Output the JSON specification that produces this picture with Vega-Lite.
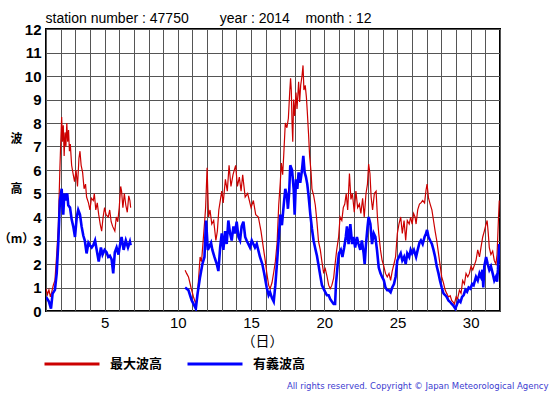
{
  "$schema": "https://vega.github.io/schema/vega-lite/v6.json",
  "width": 454,
  "height": 282,
  "autosize": {"type": "none"},
  "padding": {"left": 46, "top": 29, "right": 55, "bottom": 84},
  "background": "#ffffff",
  "config": {
    "view": {"stroke": "#000000", "strokeWidth": 2},
    "axis": {"gridColor": "#555555", "gridOpacity": 1, "gridWidth": 1}
  },
  "datasets": {
    "mx": [
      {"d":1.0,"v":0.95,"s":1},{"d":1.1,"v":0.7,"s":1},{"d":1.2,"v":0.9,"s":1},{"d":1.3,"v":0.6,"s":1},{"d":1.39,"v":0.8,"s":1},{"d":1.5,"v":1.1,"s":1},{"d":1.61,"v":1.3,"s":1},{"d":1.73,"v":2.4,"s":1},{"d":1.84,"v":3.6,"s":1},{"d":1.95,"v":6.1,"s":1},{"d":2.02,"v":7.4,"s":1},{"d":2.07,"v":8.25,"s":1},{"d":2.12,"v":7.2,"s":1},{"d":2.18,"v":7.9,"s":1},{"d":2.24,"v":6.6,"s":1},{"d":2.3,"v":7.6,"s":1},{"d":2.36,"v":7.0,"s":1},{"d":2.42,"v":8.0,"s":1},{"d":2.48,"v":7.2,"s":1},{"d":2.54,"v":7.7,"s":1},{"d":2.6,"v":6.8,"s":1},{"d":2.66,"v":7.1,"s":1},{"d":2.75,"v":6.2,"s":1},{"d":2.86,"v":5.8,"s":1},{"d":2.95,"v":5.5,"s":1},{"d":3.05,"v":6.0,"s":1},{"d":3.15,"v":5.3,"s":1},{"d":3.25,"v":6.5,"s":1},{"d":3.32,"v":6.8,"s":1},{"d":3.4,"v":6.2,"s":1},{"d":3.5,"v":5.9,"s":1},{"d":3.6,"v":5.2,"s":1},{"d":3.7,"v":5.4,"s":1},{"d":3.77,"v":4.85,"s":1},{"d":3.9,"v":4.6,"s":1},{"d":4.0,"v":4.3,"s":1},{"d":4.1,"v":4.8,"s":1},{"d":4.23,"v":4.7,"s":1},{"d":4.3,"v":5.0,"s":1},{"d":4.4,"v":4.3,"s":1},{"d":4.5,"v":4.6,"s":1},{"d":4.6,"v":4.1,"s":1},{"d":4.7,"v":3.7,"s":1},{"d":4.8,"v":3.4,"s":1},{"d":4.9,"v":4.0,"s":1},{"d":5.0,"v":4.4,"s":1},{"d":5.1,"v":4.1,"s":1},{"d":5.25,"v":4.0,"s":1},{"d":5.35,"v":4.3,"s":1},{"d":5.45,"v":3.8,"s":1},{"d":5.55,"v":3.6,"s":1},{"d":5.7,"v":3.4,"s":1},{"d":5.8,"v":4.0,"s":1},{"d":5.9,"v":3.8,"s":1},{"d":6.0,"v":4.4,"s":1},{"d":6.1,"v":5.3,"s":1},{"d":6.16,"v":5.1,"s":1},{"d":6.25,"v":4.4,"s":1},{"d":6.35,"v":5.0,"s":1},{"d":6.45,"v":4.5,"s":1},{"d":6.55,"v":4.2,"s":1},{"d":6.65,"v":4.9,"s":1},{"d":6.73,"v":4.7,"s":1},{"d":6.78,"v":4.4,"s":1},
      {"d":10.5,"v":1.73,"s":2},{"d":10.6,"v":1.6,"s":2},{"d":10.73,"v":1.45,"s":2},{"d":10.9,"v":1.0,"s":2},{"d":11.07,"v":0.6,"s":2},{"d":11.23,"v":0.3,"s":2},{"d":11.35,"v":0.74,"s":2},{"d":11.52,"v":2.3,"s":2},{"d":11.62,"v":2.1,"s":2},{"d":11.82,"v":3.7,"s":2},{"d":11.9,"v":4.4,"s":2},{"d":12.0,"v":6.1,"s":2},{"d":12.1,"v":4.0,"s":2},{"d":12.2,"v":4.3,"s":2},{"d":12.32,"v":3.7,"s":2},{"d":12.45,"v":3.85,"s":2},{"d":12.6,"v":3.0,"s":2},{"d":12.7,"v":3.4,"s":2},{"d":12.8,"v":4.3,"s":2},{"d":12.9,"v":4.7,"s":2},{"d":13.0,"v":5.1,"s":2},{"d":13.1,"v":4.6,"s":2},{"d":13.25,"v":5.6,"s":2},{"d":13.38,"v":5.1,"s":2},{"d":13.5,"v":6.2,"s":2},{"d":13.63,"v":5.3,"s":2},{"d":13.77,"v":5.8,"s":2},{"d":13.95,"v":6.2,"s":2},{"d":14.07,"v":5.3,"s":2},{"d":14.2,"v":5.7,"s":2},{"d":14.32,"v":5.1,"s":2},{"d":14.43,"v":5.8,"s":2},{"d":14.6,"v":4.85,"s":2},{"d":14.77,"v":5.0,"s":2},{"d":15.0,"v":4.4,"s":2},{"d":15.16,"v":4.7,"s":2},{"d":15.32,"v":4.1,"s":2},{"d":15.5,"v":4.0,"s":2},{"d":15.68,"v":3.4,"s":2},{"d":15.84,"v":2.7,"s":2},{"d":15.98,"v":2.1,"s":2},{"d":16.07,"v":1.65,"s":2},{"d":16.2,"v":1.1,"s":2},{"d":16.3,"v":0.95,"s":2},{"d":16.43,"v":1.2,"s":2},{"d":16.55,"v":1.65,"s":2},{"d":16.66,"v":2.1,"s":2},{"d":16.78,"v":2.9,"s":2},{"d":16.89,"v":4.5,"s":2},{"d":17.0,"v":5.5,"s":2},{"d":17.07,"v":6.3,"s":2},{"d":17.16,"v":5.8,"s":2},{"d":17.23,"v":6.6,"s":2},{"d":17.34,"v":8.0,"s":2},{"d":17.45,"v":7.8,"s":2},{"d":17.55,"v":8.2,"s":2},{"d":17.64,"v":9.3,"s":2},{"d":17.7,"v":9.9,"s":2},{"d":17.75,"v":9.4,"s":2},{"d":17.8,"v":8.0,"s":2},{"d":17.85,"v":7.2,"s":2},{"d":17.91,"v":9.0,"s":2},{"d":17.98,"v":8.3,"s":2},{"d":18.07,"v":9.3,"s":2},{"d":18.14,"v":8.6,"s":2},{"d":18.25,"v":9.75,"s":2},{"d":18.32,"v":8.9,"s":2},{"d":18.39,"v":9.6,"s":2},{"d":18.48,"v":10.0,"s":2},{"d":18.55,"v":10.45,"s":2},{"d":18.61,"v":9.4,"s":2},{"d":18.7,"v":9.6,"s":2},{"d":18.78,"v":9.1,"s":2},{"d":18.84,"v":8.5,"s":2},{"d":18.93,"v":7.5,"s":2},{"d":19.0,"v":6.6,"s":2},{"d":19.1,"v":5.9,"s":2},{"d":19.16,"v":5.2,"s":2},{"d":19.28,"v":4.9,"s":2},{"d":19.39,"v":4.5,"s":2},{"d":19.5,"v":3.8,"s":2},{"d":19.61,"v":2.95,"s":2},{"d":19.73,"v":2.6,"s":2},{"d":19.84,"v":2.1,"s":2},{"d":19.95,"v":1.65,"s":2},{"d":20.07,"v":1.8,"s":2},{"d":20.18,"v":1.5,"s":2},{"d":20.3,"v":1.1,"s":2},{"d":20.41,"v":0.95,"s":2},{"d":20.52,"v":1.1,"s":2},{"d":20.64,"v":1.4,"s":2},{"d":20.74,"v":2.0,"s":2},{"d":20.85,"v":2.6,"s":2},{"d":20.98,"v":3.15,"s":2},{"d":21.08,"v":4.0,"s":2},{"d":21.2,"v":3.85,"s":2},{"d":21.3,"v":4.4,"s":2},{"d":21.4,"v":4.55,"s":2},{"d":21.5,"v":5.0,"s":2},{"d":21.6,"v":4.3,"s":2},{"d":21.72,"v":5.85,"s":2},{"d":21.82,"v":4.75,"s":2},{"d":21.92,"v":5.0,"s":2},{"d":22.05,"v":4.2,"s":2},{"d":22.16,"v":5.1,"s":2},{"d":22.28,"v":4.4,"s":2},{"d":22.4,"v":4.55,"s":2},{"d":22.5,"v":4.15,"s":2},{"d":22.62,"v":4.8,"s":2},{"d":22.73,"v":4.0,"s":2},{"d":22.85,"v":5.0,"s":2},{"d":22.95,"v":5.4,"s":2},{"d":23.03,"v":6.25,"s":2},{"d":23.12,"v":5.85,"s":2},{"d":23.2,"v":4.85,"s":2},{"d":23.3,"v":4.3,"s":2},{"d":23.42,"v":5.0,"s":2},{"d":23.54,"v":5.1,"s":2},{"d":23.63,"v":4.0,"s":2},{"d":23.72,"v":3.3,"s":2},{"d":23.84,"v":2.6,"s":2},{"d":23.95,"v":2.15,"s":2},{"d":24.07,"v":1.9,"s":2},{"d":24.18,"v":1.6,"s":2},{"d":24.3,"v":1.45,"s":2},{"d":24.42,"v":1.6,"s":2},{"d":24.53,"v":1.3,"s":2},{"d":24.64,"v":1.7,"s":2},{"d":24.76,"v":2.0,"s":2},{"d":24.87,"v":2.3,"s":2},{"d":24.99,"v":3.3,"s":2},{"d":25.1,"v":3.7,"s":2},{"d":25.22,"v":4.0,"s":2},{"d":25.33,"v":3.3,"s":2},{"d":25.45,"v":3.85,"s":2},{"d":25.56,"v":3.0,"s":2},{"d":25.67,"v":3.85,"s":2},{"d":25.8,"v":3.7,"s":2},{"d":25.9,"v":4.0,"s":2},{"d":26.0,"v":3.7,"s":2},{"d":26.1,"v":4.15,"s":2},{"d":26.2,"v":4.0,"s":2},{"d":26.27,"v":3.7,"s":2},{"d":26.38,"v":4.3,"s":2},{"d":26.5,"v":4.55,"s":2},{"d":26.6,"v":4.6,"s":2},{"d":26.72,"v":4.7,"s":2},{"d":26.85,"v":4.6,"s":2},{"d":26.95,"v":5.15,"s":2},{"d":27.02,"v":5.4,"s":2},{"d":27.12,"v":4.8,"s":2},{"d":27.23,"v":4.55,"s":2},{"d":27.35,"v":4.3,"s":2},{"d":27.46,"v":3.85,"s":2},{"d":27.57,"v":3.4,"s":2},{"d":27.68,"v":3.0,"s":2},{"d":27.8,"v":2.45,"s":2},{"d":27.9,"v":2.0,"s":2},{"d":28.02,"v":1.45,"s":2},{"d":28.14,"v":1.2,"s":2},{"d":28.25,"v":0.9,"s":2},{"d":28.36,"v":0.75,"s":2},{"d":28.48,"v":0.6,"s":2},{"d":28.6,"v":0.65,"s":2},{"d":28.7,"v":0.45,"s":2},{"d":28.8,"v":0.38,"s":2},{"d":28.89,"v":0.3,"s":2},{"d":29.0,"v":0.6,"s":2},{"d":29.1,"v":0.52,"s":2},{"d":29.23,"v":0.88,"s":2},{"d":29.34,"v":0.75,"s":2},{"d":29.45,"v":1.3,"s":2},{"d":29.57,"v":1.15,"s":2},{"d":29.68,"v":1.6,"s":2},{"d":29.8,"v":1.45,"s":2},{"d":29.91,"v":1.6,"s":2},{"d":30.02,"v":1.9,"s":2},{"d":30.14,"v":1.75,"s":2},{"d":30.25,"v":1.95,"s":2},{"d":30.36,"v":2.15,"s":2},{"d":30.48,"v":2.6,"s":2},{"d":30.6,"v":2.3,"s":2},{"d":30.7,"v":2.7,"s":2},{"d":30.82,"v":3.15,"s":2},{"d":30.93,"v":3.4,"s":2},{"d":31.05,"v":3.7,"s":2},{"d":31.12,"v":3.85,"s":2},{"d":31.2,"v":3.3,"s":2},{"d":31.27,"v":2.7,"s":2},{"d":31.38,"v":2.4,"s":2},{"d":31.5,"v":2.55,"s":2},{"d":31.61,"v":2.15,"s":2},{"d":31.72,"v":2.0,"s":2},{"d":31.8,"v":2.4,"s":2},{"d":31.89,"v":3.85,"s":2},{"d":31.95,"v":4.7,"s":2}
    ],
    "sg": [
      {"d":1.0,"v":0.6,"s":1},{"d":1.1,"v":0.5,"s":1},{"d":1.2,"v":0.4,"s":1},{"d":1.34,"v":0.1,"s":1},{"d":1.45,"v":0.74,"s":1},{"d":1.61,"v":0.9,"s":1},{"d":1.73,"v":1.6,"s":1},{"d":1.84,"v":2.9,"s":1},{"d":1.95,"v":4.7,"s":1},{"d":2.07,"v":5.2,"s":1},{"d":2.12,"v":4.5,"s":1},{"d":2.18,"v":4.1,"s":1},{"d":2.25,"v":5.0,"s":1},{"d":2.32,"v":4.7,"s":1},{"d":2.38,"v":4.9,"s":1},{"d":2.45,"v":5.0,"s":1},{"d":2.52,"v":4.5,"s":1},{"d":2.64,"v":4.4,"s":1},{"d":2.75,"v":3.9,"s":1},{"d":2.86,"v":3.6,"s":1},{"d":2.98,"v":3.15,"s":1},{"d":3.1,"v":4.0,"s":1},{"d":3.2,"v":4.3,"s":1},{"d":3.32,"v":4.1,"s":1},{"d":3.43,"v":3.6,"s":1},{"d":3.55,"v":3.2,"s":1},{"d":3.65,"v":3.0,"s":1},{"d":3.77,"v":2.45,"s":1},{"d":3.9,"v":2.9,"s":1},{"d":4.0,"v":2.8,"s":1},{"d":4.12,"v":2.7,"s":1},{"d":4.23,"v":2.8,"s":1},{"d":4.35,"v":3.0,"s":1},{"d":4.46,"v":2.6,"s":1},{"d":4.6,"v":2.1,"s":1},{"d":4.75,"v":2.7,"s":1},{"d":4.86,"v":2.4,"s":1},{"d":5.0,"v":2.6,"s":1},{"d":5.13,"v":2.5,"s":1},{"d":5.25,"v":2.3,"s":1},{"d":5.36,"v":2.35,"s":1},{"d":5.48,"v":2.2,"s":1},{"d":5.59,"v":1.6,"s":1},{"d":5.7,"v":2.5,"s":1},{"d":5.82,"v":2.7,"s":1},{"d":5.95,"v":2.4,"s":1},{"d":6.05,"v":2.8,"s":1},{"d":6.16,"v":3.15,"s":1},{"d":6.3,"v":2.6,"s":1},{"d":6.45,"v":3.0,"s":1},{"d":6.6,"v":2.7,"s":1},{"d":6.73,"v":2.95,"s":1},{"d":6.78,"v":2.8,"s":1},
      {"d":10.5,"v":1.0,"s":2},{"d":10.73,"v":0.88,"s":2},{"d":10.95,"v":0.45,"s":2},{"d":11.07,"v":0.3,"s":2},{"d":11.23,"v":0.1,"s":2},{"d":11.35,"v":0.74,"s":2},{"d":11.52,"v":1.45,"s":2},{"d":11.68,"v":2.0,"s":2},{"d":11.82,"v":2.3,"s":2},{"d":11.93,"v":3.85,"s":2},{"d":12.05,"v":2.6,"s":2},{"d":12.16,"v":2.75,"s":2},{"d":12.27,"v":2.9,"s":2},{"d":12.36,"v":2.6,"s":2},{"d":12.5,"v":2.3,"s":2},{"d":12.66,"v":2.0,"s":2},{"d":12.77,"v":1.7,"s":2},{"d":12.89,"v":2.7,"s":2},{"d":13.0,"v":3.3,"s":2},{"d":13.11,"v":2.6,"s":2},{"d":13.23,"v":3.4,"s":2},{"d":13.34,"v":2.85,"s":2},{"d":13.45,"v":3.85,"s":2},{"d":13.57,"v":3.3,"s":2},{"d":13.68,"v":3.0,"s":2},{"d":13.8,"v":3.6,"s":2},{"d":13.9,"v":3.3,"s":2},{"d":14.02,"v":3.8,"s":2},{"d":14.14,"v":3.15,"s":2},{"d":14.25,"v":3.0,"s":2},{"d":14.36,"v":3.6,"s":2},{"d":14.48,"v":3.8,"s":2},{"d":14.6,"v":3.15,"s":2},{"d":14.7,"v":3.0,"s":2},{"d":14.93,"v":2.7,"s":2},{"d":15.05,"v":3.0,"s":2},{"d":15.27,"v":2.7,"s":2},{"d":15.39,"v":2.85,"s":2},{"d":15.61,"v":2.3,"s":2},{"d":15.77,"v":2.0,"s":2},{"d":15.9,"v":1.6,"s":2},{"d":16.07,"v":1.0,"s":2},{"d":16.2,"v":0.67,"s":2},{"d":16.3,"v":0.8,"s":2},{"d":16.43,"v":0.55,"s":2},{"d":16.55,"v":0.4,"s":2},{"d":16.66,"v":1.1,"s":2},{"d":16.78,"v":2.1,"s":2},{"d":16.89,"v":3.1,"s":2},{"d":17.0,"v":4.1,"s":2},{"d":17.11,"v":3.65,"s":2},{"d":17.23,"v":4.5,"s":2},{"d":17.34,"v":5.2,"s":2},{"d":17.45,"v":4.9,"s":2},{"d":17.52,"v":4.35,"s":2},{"d":17.6,"v":5.0,"s":2},{"d":17.68,"v":6.2,"s":2},{"d":17.8,"v":6.0,"s":2},{"d":17.91,"v":5.2,"s":2},{"d":17.98,"v":4.1,"s":2},{"d":18.07,"v":5.6,"s":2},{"d":18.16,"v":5.2,"s":2},{"d":18.25,"v":5.9,"s":2},{"d":18.36,"v":5.45,"s":2},{"d":18.48,"v":6.0,"s":2},{"d":18.57,"v":6.6,"s":2},{"d":18.66,"v":5.9,"s":2},{"d":18.75,"v":5.7,"s":2},{"d":18.84,"v":5.4,"s":2},{"d":18.93,"v":4.9,"s":2},{"d":19.05,"v":4.1,"s":2},{"d":19.16,"v":3.5,"s":2},{"d":19.27,"v":3.0,"s":2},{"d":19.39,"v":2.65,"s":2},{"d":19.5,"v":2.35,"s":2},{"d":19.61,"v":1.95,"s":2},{"d":19.73,"v":1.5,"s":2},{"d":19.84,"v":1.1,"s":2},{"d":19.95,"v":0.95,"s":2},{"d":20.07,"v":0.8,"s":2},{"d":20.18,"v":0.67,"s":2},{"d":20.3,"v":0.67,"s":2},{"d":20.41,"v":0.5,"s":2},{"d":20.52,"v":0.4,"s":2},{"d":20.64,"v":0.3,"s":2},{"d":20.74,"v":0.3,"s":2},{"d":20.8,"v":1.15,"s":2},{"d":20.92,"v":2.0,"s":2},{"d":21.0,"v":2.45,"s":2},{"d":21.13,"v":2.6,"s":2},{"d":21.24,"v":2.3,"s":2},{"d":21.36,"v":2.7,"s":2},{"d":21.47,"v":3.15,"s":2},{"d":21.55,"v":3.6,"s":2},{"d":21.66,"v":2.85,"s":2},{"d":21.78,"v":3.7,"s":2},{"d":21.9,"v":2.85,"s":2},{"d":22.0,"v":3.15,"s":2},{"d":22.11,"v":2.7,"s":2},{"d":22.23,"v":3.15,"s":2},{"d":22.34,"v":2.85,"s":2},{"d":22.46,"v":2.6,"s":2},{"d":22.57,"v":3.0,"s":2},{"d":22.69,"v":2.45,"s":2},{"d":22.76,"v":2.0,"s":2},{"d":22.85,"v":2.85,"s":2},{"d":22.95,"v":3.55,"s":2},{"d":23.03,"v":4.0,"s":2},{"d":23.15,"v":3.7,"s":2},{"d":23.26,"v":2.85,"s":2},{"d":23.38,"v":3.3,"s":2},{"d":23.49,"v":3.15,"s":2},{"d":23.6,"v":2.6,"s":2},{"d":23.72,"v":1.85,"s":2},{"d":23.84,"v":1.6,"s":2},{"d":23.95,"v":1.45,"s":2},{"d":24.07,"v":1.3,"s":2},{"d":24.18,"v":1.0,"s":2},{"d":24.3,"v":0.88,"s":2},{"d":24.41,"v":0.88,"s":2},{"d":24.53,"v":0.8,"s":2},{"d":24.64,"v":1.0,"s":2},{"d":24.76,"v":1.15,"s":2},{"d":24.87,"v":1.45,"s":2},{"d":24.99,"v":2.15,"s":2},{"d":25.1,"v":2.3,"s":2},{"d":25.22,"v":2.45,"s":2},{"d":25.33,"v":2.15,"s":2},{"d":25.45,"v":2.3,"s":2},{"d":25.56,"v":2.0,"s":2},{"d":25.67,"v":2.45,"s":2},{"d":25.8,"v":2.3,"s":2},{"d":25.9,"v":2.6,"s":2},{"d":26.0,"v":2.45,"s":2},{"d":26.12,"v":2.6,"s":2},{"d":26.27,"v":2.3,"s":2},{"d":26.38,"v":2.6,"s":2},{"d":26.5,"v":2.9,"s":2},{"d":26.6,"v":3.0,"s":2},{"d":26.72,"v":2.85,"s":2},{"d":26.85,"v":3.15,"s":2},{"d":26.95,"v":3.3,"s":2},{"d":27.02,"v":3.45,"s":2},{"d":27.12,"v":3.15,"s":2},{"d":27.23,"v":3.0,"s":2},{"d":27.35,"v":2.85,"s":2},{"d":27.46,"v":2.6,"s":2},{"d":27.57,"v":2.3,"s":2},{"d":27.68,"v":1.9,"s":2},{"d":27.8,"v":1.6,"s":2},{"d":27.9,"v":1.3,"s":2},{"d":28.02,"v":1.0,"s":2},{"d":28.14,"v":0.75,"s":2},{"d":28.25,"v":0.68,"s":2},{"d":28.36,"v":0.6,"s":2},{"d":28.48,"v":0.45,"s":2},{"d":28.6,"v":0.38,"s":2},{"d":28.7,"v":0.3,"s":2},{"d":28.8,"v":0.24,"s":2},{"d":28.95,"v":0.1,"s":2},{"d":29.07,"v":0.3,"s":2},{"d":29.18,"v":0.45,"s":2},{"d":29.3,"v":0.38,"s":2},{"d":29.41,"v":0.6,"s":2},{"d":29.52,"v":0.68,"s":2},{"d":29.64,"v":0.9,"s":2},{"d":29.75,"v":0.82,"s":2},{"d":29.86,"v":1.0,"s":2},{"d":29.98,"v":0.95,"s":2},{"d":30.1,"v":1.15,"s":2},{"d":30.2,"v":1.1,"s":2},{"d":30.36,"v":1.45,"s":2},{"d":30.48,"v":1.3,"s":2},{"d":30.6,"v":1.6,"s":2},{"d":30.7,"v":1.45,"s":2},{"d":30.8,"v":1.75,"s":2},{"d":30.86,"v":1.0,"s":2},{"d":30.93,"v":1.9,"s":2},{"d":31.05,"v":2.3,"s":2},{"d":31.16,"v":2.0,"s":2},{"d":31.27,"v":1.75,"s":2},{"d":31.38,"v":1.9,"s":2},{"d":31.5,"v":1.6,"s":2},{"d":31.61,"v":1.3,"s":2},{"d":31.72,"v":1.45,"s":2},{"d":31.8,"v":1.25,"s":2},{"d":31.86,"v":1.75,"s":2},{"d":31.9,"v":2.3,"s":2},{"d":31.95,"v":2.85,"s":2}
    ]
  },
  "layer": [
    {
      "data": {"name": "mx"},
      "mark": {"type": "line", "strokeWidth": 1.2, "clip": true},
      "encoding": {
        "x": {
          "field": "d", "type": "quantitative",
          "scale": {"domain": [1, 32], "nice": false, "zero": false},
          "axis": {
            "orient": "bottom",
            "values": [1,2,3,4,5,6,7,8,9,10,11,12,13,14,15,16,17,18,19,20,21,22,23,24,25,26,27,28,29,30,31,32],
            "labelExpr": "datum.value % 5 === 0 ? datum.label : ''",
            "labelOverlap": false, "labelBound": false, "labelFlush": false,
            "grid": true, "ticks": false, "domain": false,
            "labelFont": "Liberation Sans", "labelFontSize": 15, "labelColor": "#000000", "labelPadding": 4,
            "title": "（日）", "titleFont": "Noto Sans CJK JP", "titleFontSize": 14, "titleFontWeight": "normal", "titleColor": "#000000",
            "titleX": 216, "titleY": 30, "titleAlign": "center", "titleBaseline": "middle"
          }
        },
        "y": {
          "field": "v", "type": "quantitative",
          "scale": {"domain": [0, 12], "nice": false, "zero": true},
          "axis": {
            "orient": "left",
            "values": [0,1,2,3,4,5,6,7,8,9,10,11,12],
            "grid": true, "ticks": false, "domain": false,
            "labelFont": "Liberation Sans", "labelFontSize": 15, "labelFontWeight": "bold", "labelColor": "#000000", "labelPadding": 5,
            "labelOverlap": false, "labelBound": false, "labelFlush": false,
            "title": ["波", "高", "（m）"],
            "titleAngle": 0, "titleFont": "Noto Sans CJK JP", "titleFontSize": 12, "titleFontWeight": "bold", "titleColor": "#000000",
            "titleX": -30, "titleY": 104, "titleAlign": "center", "titleBaseline": "top", "titleLineHeight": 50
          }
        },
        "detail": {"field": "s", "type": "nominal"},
        "color": {
          "datum": "最大波高", "type": "nominal",
          "scale": {"domain": ["最大波高", "有義波高"], "range": ["#cc0000", "#0000ff"]},
          "legend": {
            "orient": "none", "direction": "horizontal", "legendX": -3, "legendY": 306,
            "title": null, "padding": 0,
            "symbolType": "stroke", "symbolSize": 3025, "symbolStrokeWidth": 3,
            "labelFont": "Noto Sans CJK JP", "labelFontSize": 13, "labelFontWeight": "bold", "labelColor": "#000000",
            "labelOffset": 9, "columnPadding": 18
          }
        }
      }
    },
    {
      "data": {"name": "sg"},
      "mark": {"type": "line", "strokeWidth": 2.6, "clip": true},
      "encoding": {
        "x": {
          "field": "d", "type": "quantitative",
          "axis": {
            "orient": "top", "labels": false, "ticks": false, "domain": false, "grid": false,
            "title": "station number : 47750\u00a0\u00a0\u00a0\u00a0\u00a0\u00a0\u00a0\u00a0year : 2014\u00a0\u00a0\u00a0\u00a0month : 12",
            "titleFont": "Liberation Sans", "titleFontSize": 14, "titleFontWeight": "normal", "titleColor": "#000000",
            "titleX": -1, "titleY": -7, "titleAlign": "left", "titleBaseline": "alphabetic", "titleAngle": 0
          }
        },
        "y": {
          "field": "v", "type": "quantitative",
          "axis": {
            "orient": "right", "labels": false, "ticks": false, "domain": false, "grid": false,
            "title": "All rights reserved. Copyright © Japan Meteorological Agency",
            "titleFont": "DejaVu Sans", "titleFontSize": 8.5, "titleFontWeight": "normal", "titleColor": "#3c3cd0",
            "titleX": 48, "titleY": 359, "titleAlign": "right", "titleBaseline": "alphabetic", "titleAngle": 0
          }
        },
        "detail": {"field": "s", "type": "nominal"},
        "color": {"datum": "有義波高", "type": "nominal"}
      }
    }
  ],
  "resolve": {"axis": {"x": "independent", "y": "independent"}}
}
